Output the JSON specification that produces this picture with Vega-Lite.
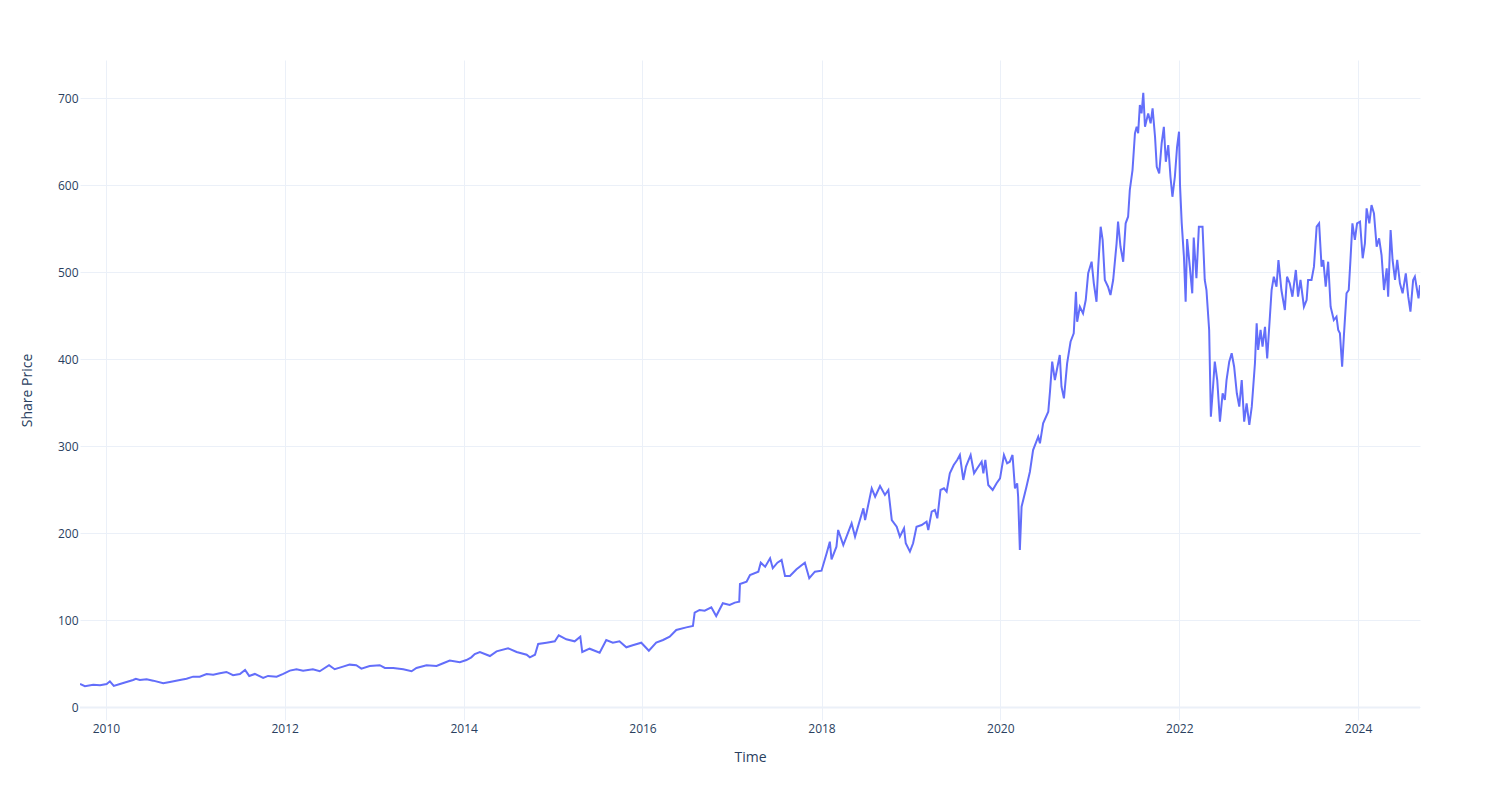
{
  "$schema": "https://vega.github.io/schema/vega-lite/v6.json",
  "width": 1340,
  "height": 660,
  "autosize": "none",
  "padding": {"left": 80, "top": 60, "right": 80, "bottom": 80},
  "background": "white",
  "config": {"view": {"stroke": null}, "font": "Open Sans"},
  "datasets": {
    "zero": [{"y": 0}],
    "prices": [
      {"date": "2009-09-17", "price": 27.0},
      {"date": "2009-10-07", "price": 24.5},
      {"date": "2009-11-10", "price": 26.2},
      {"date": "2009-12-08", "price": 25.5},
      {"date": "2010-01-04", "price": 27.0},
      {"date": "2010-01-17", "price": 30.0},
      {"date": "2010-02-02", "price": 24.7},
      {"date": "2010-02-27", "price": 27.0},
      {"date": "2010-03-26", "price": 29.3},
      {"date": "2010-04-22", "price": 31.6},
      {"date": "2010-05-03", "price": 33.0},
      {"date": "2010-05-19", "price": 31.6},
      {"date": "2010-06-16", "price": 32.4},
      {"date": "2010-07-13", "price": 30.8},
      {"date": "2010-08-23", "price": 27.8},
      {"date": "2010-09-19", "price": 29.3},
      {"date": "2010-10-30", "price": 31.6},
      {"date": "2010-11-26", "price": 33.0},
      {"date": "2010-12-23", "price": 35.4},
      {"date": "2011-01-19", "price": 35.4},
      {"date": "2011-02-16", "price": 38.5},
      {"date": "2011-03-15", "price": 37.7},
      {"date": "2011-04-11", "price": 39.3},
      {"date": "2011-05-08", "price": 40.8},
      {"date": "2011-06-04", "price": 37.0},
      {"date": "2011-07-02", "price": 38.5},
      {"date": "2011-07-23", "price": 43.0},
      {"date": "2011-08-09", "price": 36.2},
      {"date": "2011-09-01", "price": 38.5},
      {"date": "2011-10-05", "price": 33.9},
      {"date": "2011-10-25", "price": 36.2},
      {"date": "2011-11-29", "price": 35.4},
      {"date": "2011-12-26", "price": 38.5},
      {"date": "2012-01-22", "price": 42.3},
      {"date": "2012-02-18", "price": 43.9},
      {"date": "2012-03-16", "price": 42.3},
      {"date": "2012-04-25", "price": 43.9},
      {"date": "2012-05-23", "price": 41.6},
      {"date": "2012-06-30", "price": 48.5},
      {"date": "2012-07-23", "price": 43.9},
      {"date": "2012-08-26", "price": 46.9},
      {"date": "2012-09-22", "price": 49.2},
      {"date": "2012-10-19", "price": 48.5},
      {"date": "2012-11-09", "price": 44.6},
      {"date": "2012-12-13", "price": 47.7},
      {"date": "2013-01-23", "price": 48.5},
      {"date": "2013-02-13", "price": 45.4},
      {"date": "2013-03-19", "price": 45.4},
      {"date": "2013-04-29", "price": 43.9},
      {"date": "2013-06-02", "price": 41.6},
      {"date": "2013-06-22", "price": 45.4},
      {"date": "2013-08-02", "price": 48.5},
      {"date": "2013-09-12", "price": 47.7},
      {"date": "2013-10-09", "price": 50.8},
      {"date": "2013-11-05", "price": 53.8},
      {"date": "2013-12-16", "price": 52.0},
      {"date": "2014-01-12", "price": 54.5},
      {"date": "2014-02-01", "price": 57.6},
      {"date": "2014-02-15", "price": 61.4},
      {"date": "2014-03-08", "price": 63.7},
      {"date": "2014-04-18", "price": 59.1},
      {"date": "2014-05-15", "price": 64.5},
      {"date": "2014-07-01", "price": 68.0},
      {"date": "2014-08-05", "price": 63.7},
      {"date": "2014-09-15", "price": 60.6},
      {"date": "2014-09-28", "price": 57.6},
      {"date": "2014-10-19", "price": 60.6},
      {"date": "2014-11-01", "price": 72.9},
      {"date": "2014-12-05", "price": 74.4},
      {"date": "2015-01-08", "price": 76.0},
      {"date": "2015-01-24", "price": 82.9},
      {"date": "2015-02-24", "price": 78.3},
      {"date": "2015-03-30", "price": 76.0},
      {"date": "2015-04-22", "price": 81.3},
      {"date": "2015-04-30", "price": 63.7},
      {"date": "2015-05-30", "price": 67.5},
      {"date": "2015-07-10", "price": 62.9},
      {"date": "2015-08-06", "price": 77.5},
      {"date": "2015-09-02", "price": 74.4},
      {"date": "2015-09-29", "price": 76.0},
      {"date": "2015-10-27", "price": 69.1},
      {"date": "2015-11-22", "price": 71.5},
      {"date": "2015-12-27", "price": 74.4},
      {"date": "2016-01-27", "price": 65.2},
      {"date": "2016-02-26", "price": 74.4},
      {"date": "2016-03-25", "price": 77.5},
      {"date": "2016-04-21", "price": 81.3},
      {"date": "2016-05-18", "price": 89.0},
      {"date": "2016-06-28", "price": 92.0},
      {"date": "2016-07-25", "price": 93.6},
      {"date": "2016-08-01", "price": 108.9},
      {"date": "2016-08-21", "price": 112.0},
      {"date": "2016-09-11", "price": 111.2},
      {"date": "2016-10-08", "price": 115.0},
      {"date": "2016-10-28", "price": 105.0},
      {"date": "2016-11-24", "price": 119.7},
      {"date": "2016-12-22", "price": 117.7},
      {"date": "2017-01-12", "price": 120.4},
      {"date": "2017-01-30", "price": 121.5},
      {"date": "2017-02-02", "price": 141.8},
      {"date": "2017-03-01", "price": 144.5},
      {"date": "2017-03-15", "price": 152.2},
      {"date": "2017-04-18", "price": 156.0},
      {"date": "2017-04-28", "price": 166.3},
      {"date": "2017-05-16", "price": 161.7},
      {"date": "2017-06-05", "price": 171.4},
      {"date": "2017-06-16", "price": 159.9},
      {"date": "2017-07-05", "price": 166.3},
      {"date": "2017-07-22", "price": 169.4},
      {"date": "2017-08-05", "price": 151.0},
      {"date": "2017-08-25", "price": 151.0},
      {"date": "2017-09-21", "price": 158.7},
      {"date": "2017-10-25", "price": 166.3},
      {"date": "2017-11-12", "price": 148.4},
      {"date": "2017-12-05", "price": 156.0},
      {"date": "2018-01-01", "price": 157.1},
      {"date": "2018-01-22", "price": 177.1},
      {"date": "2018-02-04", "price": 190.4},
      {"date": "2018-02-11", "price": 170.2},
      {"date": "2018-03-03", "price": 184.7},
      {"date": "2018-03-10", "price": 203.9},
      {"date": "2018-03-31", "price": 186.6},
      {"date": "2018-05-04", "price": 211.5},
      {"date": "2018-05-18", "price": 196.2},
      {"date": "2018-06-21", "price": 228.8},
      {"date": "2018-06-28", "price": 215.3},
      {"date": "2018-07-25", "price": 251.7},
      {"date": "2018-08-08", "price": 242.1},
      {"date": "2018-08-28", "price": 254.4},
      {"date": "2018-09-17", "price": 244.1},
      {"date": "2018-10-01", "price": 249.8},
      {"date": "2018-10-15", "price": 215.3},
      {"date": "2018-11-04", "price": 207.6},
      {"date": "2018-11-17", "price": 196.2},
      {"date": "2018-12-04", "price": 205.8},
      {"date": "2018-12-11", "price": 188.6},
      {"date": "2018-12-28", "price": 179.0},
      {"date": "2019-01-10", "price": 188.6},
      {"date": "2019-01-24", "price": 207.6},
      {"date": "2019-02-14", "price": 209.6},
      {"date": "2019-03-06", "price": 213.4},
      {"date": "2019-03-13", "price": 203.9},
      {"date": "2019-03-27", "price": 224.9},
      {"date": "2019-04-09", "price": 226.8},
      {"date": "2019-04-19", "price": 217.3},
      {"date": "2019-05-02", "price": 249.8},
      {"date": "2019-05-16", "price": 251.7},
      {"date": "2019-05-27", "price": 247.8},
      {"date": "2019-06-09", "price": 269.0},
      {"date": "2019-06-25", "price": 278.5},
      {"date": "2019-07-09", "price": 284.3},
      {"date": "2019-07-20", "price": 290.0},
      {"date": "2019-08-03", "price": 261.3},
      {"date": "2019-08-14", "price": 276.6},
      {"date": "2019-09-02", "price": 290.0},
      {"date": "2019-09-16", "price": 269.0},
      {"date": "2019-09-29", "price": 274.7},
      {"date": "2019-10-17", "price": 282.3},
      {"date": "2019-10-24", "price": 269.0},
      {"date": "2019-11-01", "price": 284.3},
      {"date": "2019-11-13", "price": 255.5},
      {"date": "2019-12-01", "price": 249.8},
      {"date": "2019-12-17", "price": 257.5},
      {"date": "2019-12-31", "price": 263.2},
      {"date": "2020-01-16", "price": 290.0},
      {"date": "2020-01-29", "price": 280.5},
      {"date": "2020-02-09", "price": 282.3},
      {"date": "2020-02-20", "price": 290.0},
      {"date": "2020-03-01", "price": 251.7},
      {"date": "2020-03-10", "price": 257.5},
      {"date": "2020-03-14", "price": 242.1},
      {"date": "2020-03-21", "price": 180.9},
      {"date": "2020-03-28", "price": 230.6},
      {"date": "2020-04-17", "price": 253.6},
      {"date": "2020-05-01", "price": 270.8},
      {"date": "2020-05-14", "price": 295.7},
      {"date": "2020-06-04", "price": 311.0},
      {"date": "2020-06-11", "price": 303.4},
      {"date": "2020-06-24", "price": 326.4},
      {"date": "2020-07-15", "price": 339.7},
      {"date": "2020-07-22", "price": 362.7},
      {"date": "2020-07-31", "price": 397.2},
      {"date": "2020-08-11", "price": 376.1},
      {"date": "2020-08-31", "price": 404.8},
      {"date": "2020-09-07", "price": 368.4},
      {"date": "2020-09-17", "price": 355.1},
      {"date": "2020-09-30", "price": 395.3},
      {"date": "2020-10-14", "price": 420.1},
      {"date": "2020-10-27", "price": 429.8},
      {"date": "2020-11-05", "price": 477.5},
      {"date": "2020-11-10", "price": 443.1},
      {"date": "2020-11-21", "price": 460.3},
      {"date": "2020-12-04", "price": 452.7},
      {"date": "2020-12-15", "price": 468.0},
      {"date": "2020-12-25", "price": 498.7},
      {"date": "2021-01-08", "price": 512.0},
      {"date": "2021-01-17", "price": 487.2},
      {"date": "2021-01-28", "price": 466.0},
      {"date": "2021-02-04", "price": 506.3},
      {"date": "2021-02-14", "price": 552.2},
      {"date": "2021-02-22", "price": 537.0},
      {"date": "2021-03-03", "price": 491.0},
      {"date": "2021-03-16", "price": 483.3},
      {"date": "2021-03-26", "price": 473.8},
      {"date": "2021-04-06", "price": 491.0},
      {"date": "2021-04-20", "price": 533.1},
      {"date": "2021-04-26", "price": 558.0},
      {"date": "2021-05-06", "price": 529.2},
      {"date": "2021-05-17", "price": 512.0},
      {"date": "2021-05-27", "price": 556.1},
      {"date": "2021-06-06", "price": 563.7},
      {"date": "2021-06-13", "price": 594.4},
      {"date": "2021-06-24", "price": 617.3},
      {"date": "2021-07-04", "price": 659.5},
      {"date": "2021-07-11", "price": 667.0},
      {"date": "2021-07-17", "price": 659.5},
      {"date": "2021-07-24", "price": 692.0},
      {"date": "2021-07-31", "price": 682.4},
      {"date": "2021-08-07", "price": 706.1},
      {"date": "2021-08-14", "price": 667.0},
      {"date": "2021-08-27", "price": 682.4},
      {"date": "2021-09-06", "price": 671.0},
      {"date": "2021-09-14", "price": 688.2},
      {"date": "2021-09-24", "price": 655.6},
      {"date": "2021-10-01", "price": 621.1},
      {"date": "2021-10-11", "price": 613.5},
      {"date": "2021-10-21", "price": 648.0},
      {"date": "2021-10-30", "price": 667.0},
      {"date": "2021-11-07", "price": 626.8},
      {"date": "2021-11-17", "price": 646.0},
      {"date": "2021-11-26", "price": 609.6},
      {"date": "2021-12-04", "price": 586.6},
      {"date": "2021-12-14", "price": 609.6},
      {"date": "2021-12-23", "price": 644.0},
      {"date": "2021-12-31", "price": 661.3},
      {"date": "2022-01-04", "price": 600.0},
      {"date": "2022-01-11", "price": 556.0},
      {"date": "2022-01-20", "price": 517.7},
      {"date": "2022-01-27", "price": 466.0},
      {"date": "2022-02-02", "price": 538.0},
      {"date": "2022-02-13", "price": 506.3},
      {"date": "2022-02-23", "price": 475.7},
      {"date": "2022-03-01", "price": 539.8},
      {"date": "2022-03-12", "price": 493.0},
      {"date": "2022-03-22", "price": 552.2},
      {"date": "2022-04-06", "price": 552.2},
      {"date": "2022-04-15", "price": 491.0},
      {"date": "2022-04-22", "price": 479.5},
      {"date": "2022-05-03", "price": 433.6},
      {"date": "2022-05-10", "price": 334.0},
      {"date": "2022-05-17", "price": 360.9},
      {"date": "2022-05-26", "price": 397.2},
      {"date": "2022-06-05", "price": 376.1},
      {"date": "2022-06-16", "price": 328.3},
      {"date": "2022-06-27", "price": 360.9},
      {"date": "2022-07-06", "price": 353.2},
      {"date": "2022-07-13", "price": 376.1},
      {"date": "2022-07-24", "price": 397.2},
      {"date": "2022-08-03", "price": 406.8},
      {"date": "2022-08-13", "price": 391.4},
      {"date": "2022-08-24", "price": 360.9},
      {"date": "2022-09-03", "price": 345.5},
      {"date": "2022-09-13", "price": 376.1},
      {"date": "2022-09-23", "price": 328.3},
      {"date": "2022-10-03", "price": 349.4},
      {"date": "2022-10-14", "price": 324.5},
      {"date": "2022-10-24", "price": 345.5},
      {"date": "2022-10-30", "price": 368.4},
      {"date": "2022-11-06", "price": 395.3},
      {"date": "2022-11-13", "price": 441.3},
      {"date": "2022-11-19", "price": 410.6},
      {"date": "2022-11-29", "price": 433.6},
      {"date": "2022-12-07", "price": 414.4},
      {"date": "2022-12-17", "price": 437.3},
      {"date": "2022-12-26", "price": 401.0},
      {"date": "2023-01-06", "price": 448.8},
      {"date": "2023-01-13", "price": 479.5},
      {"date": "2023-01-22", "price": 494.8},
      {"date": "2023-02-02", "price": 483.3},
      {"date": "2023-02-10", "price": 514.0},
      {"date": "2023-02-22", "price": 479.5},
      {"date": "2023-03-08", "price": 456.5},
      {"date": "2023-03-17", "price": 494.8},
      {"date": "2023-03-28", "price": 487.2},
      {"date": "2023-04-08", "price": 471.8},
      {"date": "2023-04-22", "price": 502.5},
      {"date": "2023-05-01", "price": 471.8},
      {"date": "2023-05-11", "price": 491.0},
      {"date": "2023-05-25", "price": 460.3},
      {"date": "2023-06-05", "price": 468.0},
      {"date": "2023-06-11", "price": 491.0},
      {"date": "2023-06-25", "price": 491.0},
      {"date": "2023-07-05", "price": 506.3},
      {"date": "2023-07-16", "price": 552.2},
      {"date": "2023-07-26", "price": 556.1},
      {"date": "2023-08-05", "price": 506.3},
      {"date": "2023-08-12", "price": 514.0},
      {"date": "2023-08-22", "price": 483.3},
      {"date": "2023-09-01", "price": 512.0},
      {"date": "2023-09-11", "price": 460.3},
      {"date": "2023-09-24", "price": 445.0},
      {"date": "2023-10-05", "price": 448.8},
      {"date": "2023-10-12", "price": 433.6},
      {"date": "2023-10-19", "price": 429.8},
      {"date": "2023-10-28", "price": 391.4},
      {"date": "2023-11-04", "price": 425.9},
      {"date": "2023-11-15", "price": 475.7},
      {"date": "2023-11-24", "price": 479.5},
      {"date": "2023-12-01", "price": 514.0},
      {"date": "2023-12-09", "price": 556.1},
      {"date": "2023-12-19", "price": 537.0},
      {"date": "2023-12-28", "price": 556.1},
      {"date": "2024-01-09", "price": 558.0},
      {"date": "2024-01-20", "price": 516.0},
      {"date": "2024-01-29", "price": 533.1},
      {"date": "2024-02-05", "price": 573.3},
      {"date": "2024-02-16", "price": 556.1},
      {"date": "2024-02-25", "price": 577.1},
      {"date": "2024-03-06", "price": 567.6},
      {"date": "2024-03-17", "price": 529.2},
      {"date": "2024-03-27", "price": 538.9},
      {"date": "2024-04-06", "price": 519.7},
      {"date": "2024-04-16", "price": 479.5},
      {"date": "2024-04-27", "price": 504.4},
      {"date": "2024-05-03", "price": 471.8},
      {"date": "2024-05-13", "price": 548.4},
      {"date": "2024-05-21", "price": 514.0},
      {"date": "2024-05-31", "price": 491.0},
      {"date": "2024-06-09", "price": 514.0},
      {"date": "2024-06-20", "price": 487.2},
      {"date": "2024-07-01", "price": 475.7},
      {"date": "2024-07-14", "price": 498.7},
      {"date": "2024-07-24", "price": 471.8},
      {"date": "2024-08-02", "price": 454.6},
      {"date": "2024-08-13", "price": 491.0},
      {"date": "2024-08-20", "price": 494.8},
      {"date": "2024-08-29", "price": 479.5},
      {"date": "2024-09-04", "price": 470.0},
      {"date": "2024-09-10", "price": 485.0}
    ]
  },
  "layer": [
    {
      "data": {"name": "zero"},
      "mark": {"type": "rule", "color": "#EBF0F8", "strokeWidth": 2},
      "encoding": {
        "y": {"field": "y", "type": "quantitative"}
      }
    },
    {
      "data": {"name": "prices"},
      "mark": {"type": "line", "color": "#636efa", "strokeWidth": 2, "clip": true},
      "encoding": {
        "x": {
          "field": "date",
          "type": "temporal",
          "title": "Time",
          "scale": {"type": "utc", "domain": ["2009-09-17", "2024-09-10"], "nice": false},
          "axis": {
            "format": "%Y",
            "tickCount": {"interval": "year", "step": 2},
            "grid": true,
            "gridColor": "#EBF0F8",
            "gridWidth": 1,
            "domain": false,
            "ticks": false,
            "labelPadding": 3,
            "labelFontSize": 12,
            "labelColor": "#2a3f5f",
            "labelFlush": false,
            "labelOverlap": false,
            "titleFontSize": 14,
            "titleFontWeight": "normal",
            "titleColor": "#2a3f5f",
            "titleBaseline": "alphabetic",
            "titleX": 670,
            "titleY": 41.7
          }
        },
        "y": {
          "field": "price",
          "type": "quantitative",
          "title": "Share Price",
          "scale": {"domain": [-14.4, 743.7], "nice": false, "zero": false},
          "axis": {
            "values": [0, 100, 200, 300, 400, 500, 600, 700],
            "grid": true,
            "gridColor": "#EBF0F8",
            "gridWidth": 1,
            "domain": false,
            "ticks": false,
            "labelPadding": 2,
            "labelFontSize": 12,
            "labelColor": "#2a3f5f",
            "titleFontSize": 14,
            "titleFontWeight": "normal",
            "titleColor": "#2a3f5f",
            "titleBaseline": "alphabetic",
            "titleX": -48.3,
            "titleY": 330
          }
        }
      }
    }
  ]
}
